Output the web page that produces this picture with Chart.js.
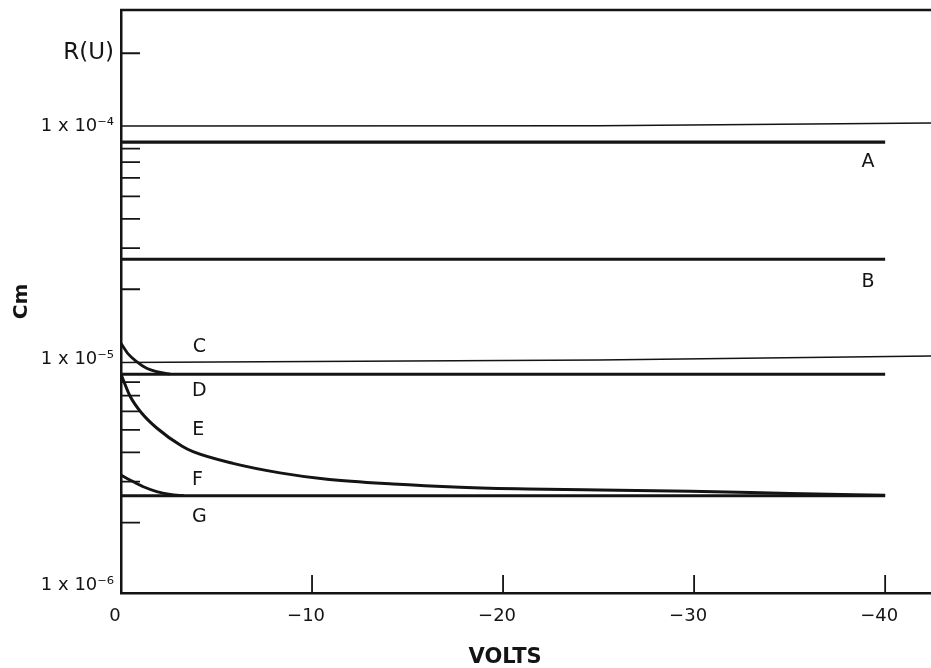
<!DOCTYPE html>
<html lang="en">
<head>
  <meta charset="UTF-8" />
  <title>Cm vs Volts</title>
  <script src="https://cdn.jsdelivr.net/npm/chart.js"></script>
  <style>
    html, body { margin: 0; padding: 0; background: #fff; }
    .chart-box { width: 931px; height: 668px; position: relative; }
  </style>
</head>
<body>
  <div class="chart-box">
    <canvas id="cmChart"></canvas>
  </div>

  <script>
    // ---- values (volts, Cm) ----
    const flatVolts = [0, -40];
    const lineA = [8.54e-5, 8.54e-5];
    const lineB = [2.685e-5, 2.685e-5];
    const lineD = [8.65e-6, 8.65e-6];
    const lineG = [2.61e-6, 2.61e-6];

    // thin lines run past -40 to the edge of the frame
    const thinVolts = [0, -25, -42.4];
    const lineC = [9.7e-6, 9.95e-6, 1.035e-5];
    const lineTop = [1.0e-4, 1.003e-4, 1.03e-4];

    // short curve dropping onto D
    const hookVolts = [0, -0.35, -0.82, -1.34, -1.87, -2.57];
    const hookCm = [1.173e-5, 1.063e-5, 9.79e-6, 9.17e-6, 8.87e-6, 8.67e-6];

    const voltsE = [0, -0.47, -1.08, -1.87, -3.18, -3.77, -5.86, -8.32, -10.79, -14.24, -17.75, -21.26, -25.08, -29.79, -35.03, -40];
    const curveE = [8.65e-6, 6.98e-6, 5.9e-6, 5.09e-6, 4.26e-6, 4.03e-6, 3.59e-6, 3.27e-6, 3.07e-6, 2.93e-6, 2.84e-6, 2.79e-6, 2.76e-6, 2.73e-6, 2.67e-6, 2.62e-6];

    const voltsF = [0, -0.47, -1.17, -1.87, -2.57, -3.3];
    const curveF = [3.2e-6, 3.05e-6, 2.85e-6, 2.72e-6, 2.646e-6, 2.61e-6];

    // ---- axes ----
    const xTickValues = [0, -10, -20, -30, -40];
    const xTickText = ['0', '\u221210', '\u221220', '\u221230', '\u221240'];

    const yTickValues = [1e-6, 2e-6, 3e-6, 4e-6, 5e-6, 6e-6, 7e-6, 8e-6,
                         1e-5, 2e-5, 3e-5, 4e-5, 5e-5, 6e-5, 7e-5, 8e-5,
                         1e-4, 2.05e-4];
    const yTickText = ['1 x 10\u207B\u2076', '', '', '', '', '', '', '',
                       '1 x 10\u207B\u2075', '', '', '', '', '', '', '',
                       '1 x 10\u207B\u2074', 'R(U)'];

    // letters naming the curves
    const curveTags = ['A', 'B', 'C', 'D', 'E', 'F', 'G'];
    const tagVolts = [-39.1, -39.1, -4.1, -4.1, -4.05, -4.0, -4.1];
    const tagCm = [7.01e-5, 2.15e-5, 1.131e-5, 7.33e-6, 4.99e-6, 3.05e-6, 2.12e-6];

    const ink = '#141414';
    const fontFamily = '"DejaVu Sans", sans-serif';

    const pts = (xs, ys) => xs.map((v, i) => ({ x: v, y: ys[i] }));

    function line(xs, ys, width, smooth) {
      return {
        data: pts(xs, ys),
        borderColor: ink,
        borderWidth: width,
        pointRadius: 0,
        fill: false,
        cubicInterpolationMode: smooth ? 'monotone' : 'default',
        tension: smooth ? 0.4 : 0
      };
    }

    // top edge of the frame, inward tick marks, curve letters, x title
    const paperBits = {
      id: 'paperBits',
      afterDatasetsDraw(chart) {
        const { ctx, chartArea, scales: { x, y } } = chart;
        ctx.save();
        ctx.strokeStyle = ink;
        ctx.lineWidth = 2.5;
        ctx.beginPath();
        ctx.moveTo(chartArea.left - 1, chartArea.top);
        ctx.lineTo(chartArea.right, chartArea.top);
        ctx.stroke();

        ctx.lineWidth = 1.8;
        ctx.beginPath();
        yTickValues.forEach((v, i) => {
          if (yTickText[i] !== '' && yTickText[i] !== 'R(U)') return;
          const py = y.getPixelForValue(v);
          ctx.moveTo(chartArea.left, py);
          ctx.lineTo(chartArea.left + 19, py);
        });
        xTickValues.forEach(v => {
          if (v === 0) return;
          const px = x.getPixelForValue(v);
          ctx.moveTo(px, chartArea.bottom);
          ctx.lineTo(px, chartArea.bottom - 18);
        });
        ctx.stroke();

        ctx.fillStyle = ink;
        ctx.textAlign = 'center';
        ctx.textBaseline = 'middle';
        ctx.font = '19px ' + fontFamily;
        curveTags.forEach((t, i) => {
          ctx.fillText(t, x.getPixelForValue(tagVolts[i]), y.getPixelForValue(tagCm[i]));
        });

        ctx.font = 'bold 21px ' + fontFamily;
        ctx.fillText('VOLTS', x.getPixelForValue(-20) + 2, chart.height - 10);
        ctx.restore();
      }
    };

    const ctx = document.getElementById('cmChart').getContext('2d');
    const cmChart = new Chart(ctx, {
      type: 'line',
      data: {
        datasets: [
          line(thinVolts, lineTop, 1.5, false),
          line(thinVolts, lineC, 1.5, false),
          line(flatVolts, lineA, 3.2, false),
          line(flatVolts, lineB, 3, false),
          line(flatVolts, lineD, 3, false),
          line(flatVolts, lineG, 3, false),
          line(hookVolts, hookCm, 2.8, true),
          line(voltsE, curveE, 3, true),
          line(voltsF, curveF, 2.8, true)
        ]
      },
      options: {
        responsive: true,
        maintainAspectRatio: false,
        animation: false,
        layout: { padding: { top: 10, right: 0, left: 0, bottom: 0 } },
        plugins: {
          legend: { display: false },
          tooltip: { enabled: false }
        },
        scales: {
          x: {
            type: 'linear',
            min: -42.4,
            max: 0,
            reverse: true,
            afterBuildTicks: scale => { scale.ticks = xTickValues.map(v => ({ value: v })); },
            afterFit: scale => {
              scale.height = 75;
              scale.paddingLeft = 0;
              scale.paddingRight = 0;
            },
            grid: { drawOnChartArea: false, drawTicks: false },
            border: { color: ink, width: 2.5 },
            ticks: {
              autoSkip: false,
              maxRotation: 0,
              padding: 13,
              labelOffset: -6,
              color: ink,
              font: { family: fontFamily, size: 18 },
              callback: (value, index) => xTickText[index]
            }
          },
          y: {
            type: 'logarithmic',
            min: 1e-6,
            max: 3.14e-4,
            afterBuildTicks: scale => { scale.ticks = yTickValues.map(v => ({ value: v })); },
            afterFit: scale => {
              scale.width = 121;
              scale.paddingTop = 0;
              scale.paddingBottom = 0;
            },
            grid: { drawOnChartArea: false, drawTicks: false },
            border: { color: ink, width: 2.5 },
            title: {
              display: true,
              text: 'Cm',
              color: ink,
              padding: { top: 10, bottom: 0 },
              font: { family: fontFamily, size: 20, weight: 'bold' }
            },
            ticks: {
              autoSkip: false,
              padding: 7,
              color: ink,
              font: c => ({
                family: fontFamily,
                size: c.tick && c.tick.value > 1.5e-4 ? 23 : 18,
                // the bottom label sits above the axis, pushed up by an empty 2nd line
                lineHeight: c.index === 0 ? 0.8 : 1.2
              }),
              callback: (value, index) => index === 0 ? [yTickText[0], ''] : yTickText[index]
            }
          }
        }
      },
      plugins: [paperBits]
    });
  </script>
</body>
</html>
